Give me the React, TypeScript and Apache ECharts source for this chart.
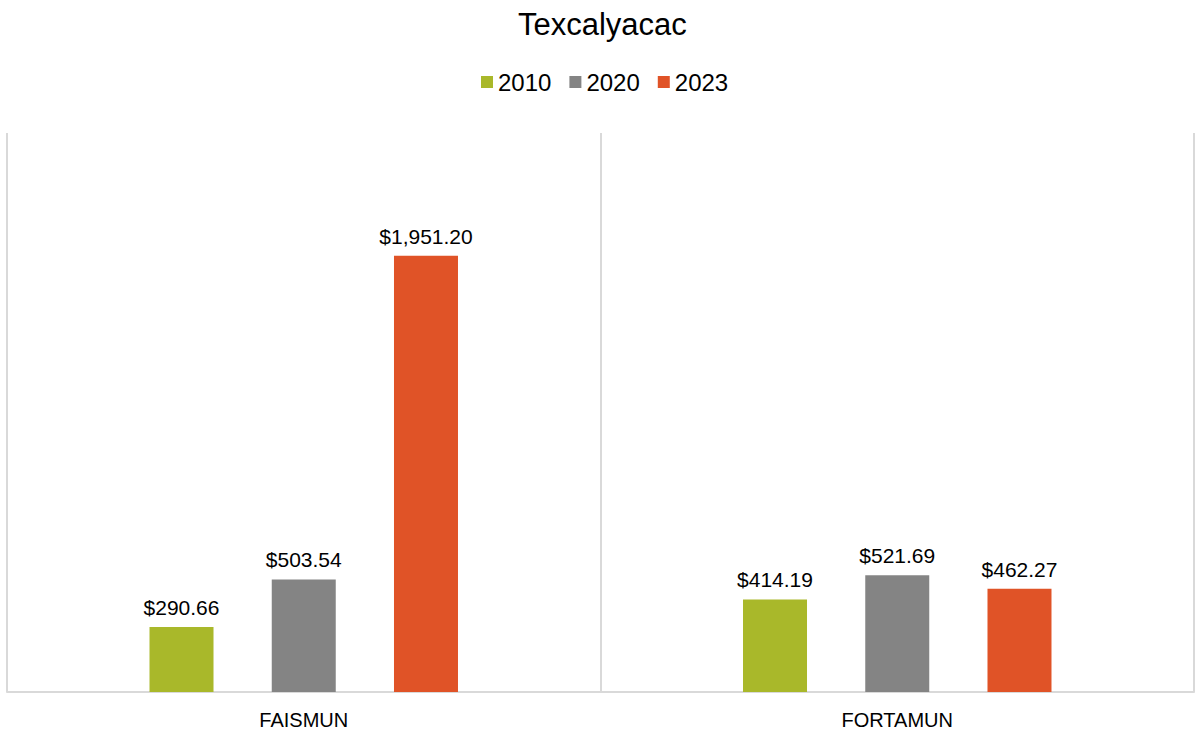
import React, { useEffect, useRef } from "react";
import * as echarts from "echarts";

const categories = ["FAISMUN", "FORTAMUN"];
const seriesNames = ["2010", "2020", "2023"];
const values2010 = [290.66, 414.19];
const values2020 = [503.54, 521.69];
const values2023 = [1951.2, 462.27];
const colors = ["#A9B82A", "#848484", "#E05327"];

const fmt = (v: number) =>
  "$" + v.toLocaleString("en-US", { minimumFractionDigits: 2, maximumFractionDigits: 2 });

export default function App() {
  const ref = useRef<HTMLDivElement>(null);
  useEffect(() => {
    if (!ref.current) return;
    const chart = echarts.init(ref.current, null, { renderer: "svg" });
    const data = [values2010, values2020, values2023];
    chart.setOption({
      animation: false,
      backgroundColor: "#fff",
      textStyle: { fontFamily: "Liberation Sans, Arial, sans-serif" },
      title: {
        text: "Texcalyacac",
        left: 513,
        top: 4,
        textStyle: { fontSize: 31, fontWeight: "normal", color: "#000", fontFamily: "Liberation Sans, Arial, sans-serif" },
      },
      legend: {
        top: 65,
        left: 476,
        itemWidth: 12,
        itemHeight: 12,
        itemGap: 18,
        icon: "rect",
        textStyle: { fontSize: 24, color: "#000" },
        data: seriesNames,
      },
      grid: { left: 7, right: 1, top: 133, bottom: 39, containLabel: false },
      xAxis: {
        type: "category",
        data: categories,
        axisLine: { show: true, lineStyle: { color: "#D9D9D9", width: 2 } },
        axisTick: { show: false },
        splitLine: { show: true, lineStyle: { color: "#D9D9D9", width: 2 } },
        axisLabel: { fontSize: 20, color: "#000", margin: 18 },
      },
      yAxis: {
        type: "value",
        min: 0,
        max: 2500,
        show: false,
        splitLine: { show: false },
      },
      series: seriesNames.map((name, i) => ({
        name,
        type: "bar",
        data: data[i],
        barWidth: 64,
        barGap: "91%",
        itemStyle: { color: colors[i] },
        label: {
          show: true,
          position: "top",
          distance: 9,
          fontSize: 21,
          color: "#000",
          formatter: (p: any) => fmt(p.value),
        },
      })),
    });
    return () => chart.dispose();
  }, []);
  return (
    <div
      ref={ref}
      style={{ position: "fixed", left: 0, top: 0, width: 1195, height: 731 }}
    />
  );
}
